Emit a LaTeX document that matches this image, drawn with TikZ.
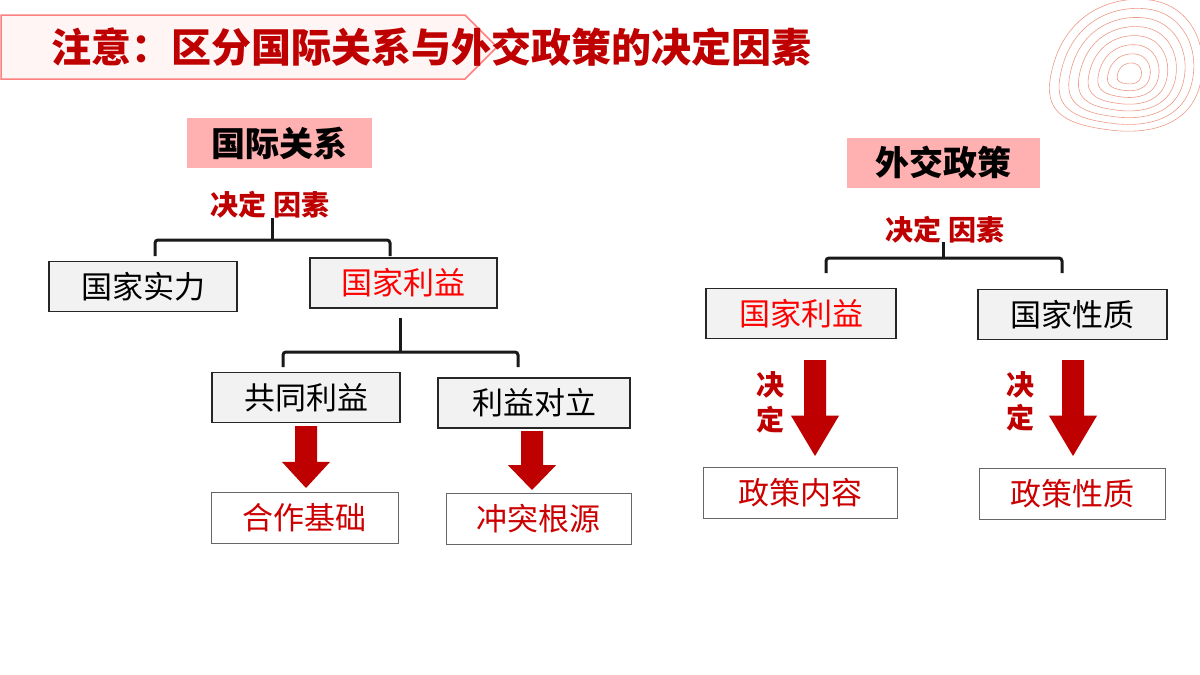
\documentclass[tikz,border=0pt]{standalone}
\usepackage{fontspec}
\setmainfont{Noto Sans CJK SC}
\begin{document}
\begin{tikzpicture}[x=1pt,y=-1pt,
 box/.style={draw=black!85,line width=1.3pt,fill=black!5,minimum height=50pt,inner sep=0pt,font=\fontsize{31}{33}\selectfont},
 rbox/.style={draw=black!60,line width=0.8pt,fill=white,minimum height=51pt,inner sep=0pt,text=red!80!black,font=\fontsize{31}{33}\selectfont},
 pbox/.style={fill=red!25!pink!70,minimum height=50pt,inner sep=0pt,font=\bfseries\fontsize{34}{36}\selectfont},
 lab/.style={text=red!75!black,font=\bfseries\fontsize{28}{30}\selectfont},
 br/.style={line width=3pt,draw=black!90,rounded corners=3pt},
 arr/.style={fill=red!75!black}]
\useasboundingbox (0,0) rectangle (1200,675);
% title banner
\path[draw=red!50,line width=1.5pt,fill=red!4] (1,15) -- (465,15) -- (497,47) -- (465,79) -- (1,79) -- cycle;
\node[anchor=west,text=red!75!black,font=\bfseries\fontsize{40}{42}\selectfont] (title) at (48,47) {注意：区分国际关系与外交政策的决定因素};
% decoration
\begin{scope}[draw=red!45!brown!55,line width=0.6pt]
\foreach \s in {1,0.88,0.76,0.64,0.52,0.4,0.28,0.16}{
 \draw[shift={(1130,75)},scale=\s] (-80,5) .. controls (-70,-60) and (-20,-80) .. (20,-75) .. controls (60,-70) and (80,-30) .. (70,10) .. controls (60,50) and (20,60) .. (-20,55) .. controls (-60,50) and (-85,40) .. (-80,5);}
\end{scope}
% left
\node[pbox,minimum width=185pt] (ir) at (279.5,143) {国际关系};
\node[lab] (d1) at (270,205) {决定 因素};
\node[box,minimum width=188pt] (a) at (143,286.5) {国家实力};
\node[box,minimum width=187pt,text=red] (b) at (403.5,283) {国家利益};
\node[box,minimum width=188pt] (c) at (306,397.5) {共同利益};
\node[box,minimum width=192pt] (e) at (534,403) {利益对立};
\node[rbox,minimum width=187pt] (f) at (304.5,518) {合作基础};
\node[rbox,minimum width=185pt] (g) at (538.5,519) {冲突根源};
\coordinate (j1) at (272,240);
\draw[br] (272,218) -- (j1);
\draw[br] (155,256) -- (155,240) -- (390,240) -- (390,256);
\coordinate (j2) at (400,352);
\draw[br] (400,318) -- (j2);
\draw[br] (283,367) -- (283,352) -- (518,352) -- (518,367);
% right
\node[pbox,minimum width=193pt] (fp) at (943.5,162.5) {外交政策};
\node[lab] (d2) at (945,230) {决定 因素};
\node[box,minimum width=190pt,text=red] (h) at (801,313.5) {国家利益};
\node[box,minimum width=189pt] (k) at (1072.5,314.5) {国家性质};
\node[rbox,minimum width=194pt] (m) at (800,492.5) {政策内容};
\node[rbox,minimum width=186pt] (n) at (1072,493.5) {政策性质};
\draw[br] (943,242) -- (943,258);
\draw[br] (826,273) -- (826,258) -- (1062,258) -- (1062,273);
\node[lab] (v1) at (770,385) {决};
\node[lab] (v2) at (770,420) {定};
\node[lab] (v3) at (1020,385) {决};
\node[lab] (v4) at (1020,418) {定};
% arrows
\foreach \x/\ya/\yb in {306/426/488, 532/431/490, 815/360/456, 1073/360/456}{
 \pgfmathsetmacro{\ym}{\yb-(\yb-\ya)*0.42}
 \fill[arr] (\x-11,\ya) -- (\x+11,\ya) -- (\x+11,\ym) -- (\x+24,\ym) -- (\x,\yb) -- (\x-24,\ym) -- (\x-11,\ym) -- cycle;}
\end{tikzpicture}
\end{document}
